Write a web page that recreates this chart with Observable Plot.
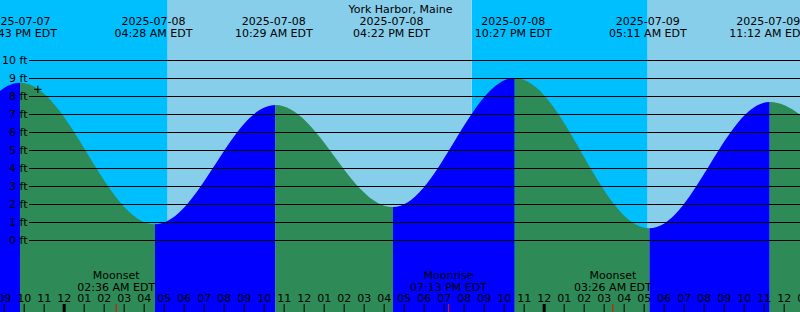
<!DOCTYPE html>
<html><head><meta charset="utf-8">
<script src="https://cdn.jsdelivr.net/npm/d3@7"></script>
<script src="https://cdn.jsdelivr.net/npm/@observablehq/plot@0.6"></script>
<style>body{margin:0;background:#fff}</style>
</head><body><div id="chart"></div>
<script>
// ---------- data ----------
const title = "York Harbor, Maine";
const viewStart = "2025-07-07T20:43";
const viewEnd = "2025-07-09T12:43";

// tide extremes (local time, EDT) and heights in ft
const tideTimes = ["2025-07-07T15:40", "2025-07-07T21:43", "2025-07-08T04:28", "2025-07-08T10:29",
                   "2025-07-08T16:22", "2025-07-08T22:27", "2025-07-09T05:11", "2025-07-09T11:12",
                   "2025-07-09T17:40"];
const tideHeights = [1.9, 8.74, 0.87, 7.5, 1.83, 9.0, 0.65, 7.67, 2.2];

// sunrise / sunset boundaries of the day (light) and night (dark) bands
const bandStarts = ["2025-07-07T20:43", "2025-07-08T05:06", "2025-07-08T20:18", "2025-07-09T05:06"];
const bandEnds   = ["2025-07-08T05:06", "2025-07-08T20:18", "2025-07-09T05:06", "2025-07-09T12:43"];
const bandKinds  = ["night", "day", "night", "day"];

// moon events
const moonTimes  = ["2025-07-08T02:36", "2025-07-08T19:13", "2025-07-09T03:26"];
const moonEvents = ["Moonset", "Moonrise", "Moonset"];

// current-time marker
const nowTime = "2025-07-07T22:35";
const nowHeight = 8.4;

// depth gridlines (ft)
const depthTicks = [0, 1, 2, 3, 4, 5, 6, 7, 8, 9, 10];

// hour ticks span
const hourTickStart = "2025-07-07T20:00";
const hourTickEnd = "2025-07-09T14:00";

// ---------- helpers ----------
const parse = s => new Date(s);
const fmtDate = d3.timeFormat("%Y-%m-%d");
const fmtTime = d => d3.timeFormat("%I:%M %p")(d) + " EDT";
const fmtHour = d3.timeFormat("%I");

const COL = {night: "#00BFFF", day: "#87CEEB", rising: "#0000FF", falling: "#2E8B57"};

// smooth transition between tide extremes (zero slope at each extreme)
const K = 0.36;
function TideCurve(context) { this._context = context; }
TideCurve.prototype = {
  areaStart() { this._line = 0; },
  areaEnd() { this._line = NaN; },
  lineStart() { this._point = 0; },
  lineEnd() {
    if (this._line || (this._line !== 0 && this._point === 1)) this._context.closePath();
    this._line = 1 - this._line;
  },
  point(x, y) {
    x = +x; y = +y;
    if (this._point === 0) {
      this._point = 1;
      this._line ? this._context.lineTo(x, y) : this._context.moveTo(x, y);
    } else {
      const dx = x - this._x0;
      this._context.bezierCurveTo(this._x0 + K * dx, this._y0, x - K * dx, y, x, y);
    }
    this._x0 = x; this._y0 = y;
  }
};
const curveTide = context => new TideCurve(context);

// ---------- tables ----------
const tide = tideTimes.map((t, i) => ({t: parse(t), h: tideHeights[i]}));
const segments = [];
for (let i = 0; i < tide.length - 1; i++) {
  const rising = tide[i + 1].h > tide[i].h;
  segments.push({...tide[i], seg: i, rising}, {...tide[i + 1], seg: i, rising});
}
const x0 = parse(viewStart), x1 = parse(viewEnd);
const tideLabels = tide.filter(d => d.t >= new Date(x0 - 3 * 3600e3) && d.t <= new Date(+x1 + 3 * 3600e3));
const bands = bandStarts.map((s, i) => ({start: parse(s), end: parse(bandEnds[i]), kind: bandKinds[i]}));
const moon = moonTimes.map((t, i) => ({t: parse(t), event: moonEvents[i]}));
const hourTicks = d3.timeHour.range(parse(hourTickStart), parse(hourTickEnd));

const chart = Plot.plot({
  width: 800,
  height: 312,
  margin: 0,
  x: {type: "time", domain: [x0, x1], axis: null},
  y: {domain: [-4, 40 / 3], axis: null},
  style: {fontFamily: "DejaVu Sans", fontSize: "11px", background: "none", color: "black"},
  marks: [
    Plot.rect(bands.filter(d => d.kind === "night"), {x1: "start", x2: "end", fill: COL.night}),
    Plot.rect(bands.filter(d => d.kind === "day"), {x1: "start", x2: "end", fill: COL.day}),
    Plot.areaY(segments.filter(d => d.rising), {x: "t", y1: -4, y2: "h", z: "seg", fill: COL.rising, curve: curveTide, clip: true}),
    Plot.areaY(segments.filter(d => !d.rising), {x: "t", y1: -4, y2: "h", z: "seg", fill: COL.falling, curve: curveTide, clip: true}),
    Plot.ruleY(depthTicks, {y: d => d, insetLeft: 29, stroke: "black"}),
    Plot.text(depthTicks, {y: d => d, text: d => `${d} ft`, frameAnchor: "left", dx: 27, textAnchor: "end", lineAnchor: "middle", fontSize: 11}),
    Plot.dot([{t: parse(nowTime), h: nowHeight}], {x: "t", y: "h", symbol: "plus", r: 2.5, stroke: "black", strokeWidth: 1}),
    Plot.text([title], {text: d => d, frameAnchor: "top", lineAnchor: "bottom", dy: 12, fontSize: 11}),
    Plot.text(tideLabels, {x: "t", text: d => fmtDate(d.t), frameAnchor: "top", lineAnchor: "bottom", dy: 24, dx: -2, fontSize: 11}),
    Plot.text(tideLabels, {x: "t", text: d => fmtTime(d.t), frameAnchor: "top", lineAnchor: "bottom", dy: 36, dx: -2, fontSize: 11}),
    Plot.text(moon, {x: "t", text: "event", frameAnchor: "bottom", lineAnchor: "bottom", dy: -34, dx: -2, fontSize: 11}),
    Plot.text(moon, {x: "t", text: d => fmtTime(d.t), frameAnchor: "bottom", lineAnchor: "bottom", dy: -22, dx: -2, fontSize: 11}),
    Plot.text(hourTicks, {x: d => d, text: d => fmtHour(d), frameAnchor: "bottom", lineAnchor: "bottom", dy: -11, dx: -2, fontSize: 11}),
    Plot.ruleX(hourTicks, {x: d => d, insetTop: 304, dx: -2, stroke: "black", strokeWidth: d => d.getHours() === 0 ? 3 : 1}),
    Plot.ruleX(moon, {x: "t", insetTop: 304, dx: -2, stroke: "red", strokeWidth: 1})
  ]
});
document.getElementById("chart").appendChild(chart);
</script>
</body></html>
